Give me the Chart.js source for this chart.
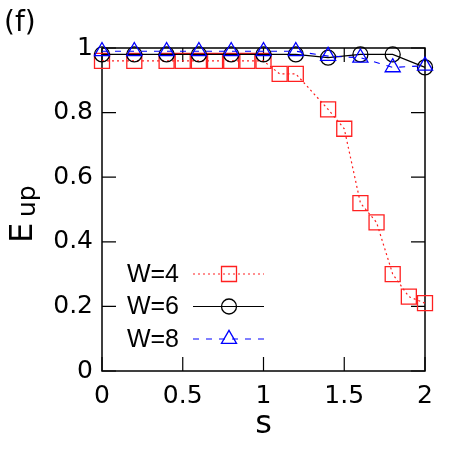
<!DOCTYPE html>
<html>
<head>
<meta charset="utf-8">
<script src="https://cdn.jsdelivr.net/npm/chart.js@4.4.1/dist/chart.umd.min.js"></script>
<style>
  html, body { margin: 0; padding: 0; background: #fff; }
  canvas { display: block; }
</style>
</head>
<body>
<canvas id="chart" width="450" height="450"></canvas>
<script>
// s values and E_up, one pair of arrays per W
const sW4 = [0, 0.2, 0.4, 0.5, 0.6, 0.7, 0.8, 0.9, 1.0, 1.1, 1.2, 1.4, 1.5, 1.6, 1.7, 1.8, 1.9, 2.0];
const eW4 = [0.96, 0.96, 0.96, 0.96, 0.96, 0.96, 0.96, 0.96, 0.96, 0.92, 0.92, 0.81, 0.75, 0.52, 0.46, 0.30, 0.23, 0.21];
const sW6 = [0, 0.2, 0.4, 0.6, 0.8, 1.0, 1.2, 1.4, 1.6, 1.8, 2.0];
const eW6 = [0.98, 0.98, 0.98, 0.98, 0.98, 0.98, 0.98, 0.97, 0.98, 0.98, 0.94];
const sW8 = [0, 0.2, 0.4, 0.6, 0.8, 1.0, 1.2, 1.4, 1.6, 1.8, 2.0];
const eW8 = [0.99, 0.99, 0.99, 0.99, 0.99, 0.99, 0.99, 0.975, 0.97, 0.94, 0.945];
const seriesLabels = ['W=4', 'W=6', 'W=8'];
const xTicks = [0, 0.5, 1, 1.5, 2];
const yTicks = [0, 0.2, 0.4, 0.6, 0.8, 1];

const RED = '#ff2020';
const BLUE = '#0000ff';
const BLACK = '#000000';

const toPoints = (xs, ys) => xs.map((x, i) => ({ x: x, y: ys[i] }));
const fmt = v => String(+Number(v).toFixed(2));

// gnuplot-style series look, reused by the legend
const styles = [
    { color: RED, dash: [2, 3], point: 'rect', radius: 10.6 },
    { color: BLACK, dash: [], point: 'circle', radius: 7.5 },
    { color: BLUE, dash: [6, 7], point: 'triangle', radius: 8.7 }
];

function makeDataset(i, xs, ys) {
    const st = styles[i];
    return {
        label: seriesLabels[i],
        data: toPoints(xs, ys),
        showLine: true,
        borderColor: st.color,
        borderWidth: 1.2,
        borderDash: st.dash,
        pointStyle: st.point,
        pointRadius: st.radius,
        pointBorderWidth: 1.3,
        pointBorderColor: st.color,
        pointBackgroundColor: 'rgba(0,0,0,0)',
        clip: false,
        order: 2 - i
    };
}

// Frame with inward tick marks on all four sides
const framePlugin = {
    id: 'frame',
    beforeDatasetsDraw(chart) {
        const { ctx, chartArea: a, scales: { x, y } } = chart;
        ctx.save();
        ctx.strokeStyle = BLACK;
        ctx.lineWidth = 1.5;
        ctx.strokeRect(a.left, a.top, a.right - a.left, a.bottom - a.top);
        ctx.lineWidth = 1.2;
        ctx.beginPath();
        xTicks.forEach(v => {
            const px = x.getPixelForValue(v);
            ctx.moveTo(px, a.bottom); ctx.lineTo(px, a.bottom - 14);
            ctx.moveTo(px, a.top); ctx.lineTo(px, a.top + 14);
        });
        yTicks.forEach(v => {
            const py = y.getPixelForValue(v);
            ctx.moveTo(a.left, py); ctx.lineTo(a.left + 14, py);
            ctx.moveTo(a.right, py); ctx.lineTo(a.right - 14, py);
        });
        ctx.stroke();
        ctx.restore();
    }
};

function drawMarker(ctx, style, cx, cy, r) {
    ctx.beginPath();
    if (style === 'rect') {
        const h = r * Math.SQRT1_2;
        ctx.rect(cx - h, cy - h, 2 * h, 2 * h);
    } else if (style === 'circle') {
        ctx.arc(cx, cy, r, 0, Math.PI * 2);
    } else {
        ctx.moveTo(cx, cy - r);
        ctx.lineTo(cx + r * Math.sin(2 * Math.PI / 3), cy + r * 0.5);
        ctx.lineTo(cx - r * Math.sin(2 * Math.PI / 3), cy + r * 0.5);
        ctx.closePath();
    }
    ctx.stroke();
}

// Legend, panel tag and the y title with its subscript
const textPlugin = {
    id: 'texts',
    afterDraw(chart) {
        const { ctx } = chart;
        ctx.save();
        ctx.fillStyle = BLACK;

        ctx.font = '28px "DejaVu Sans"';
        ctx.textAlign = 'left';
        ctx.textBaseline = 'alphabetic';
        ctx.fillText('(f)', 4, 31);

        ctx.save();
        ctx.translate(32, 243);
        ctx.rotate(-Math.PI / 2);
        ctx.font = '32px "DejaVu Sans"';
        ctx.fillText('E', 0, 0);
        ctx.font = '25px "DejaVu Sans"';
        ctx.fillText('up', 26, 3);
        ctx.restore();

        seriesLabels.forEach((lab, i) => {
            const st = styles[i];
            const yy = 274 + i * 32.5;
            ctx.font = '25px "Liberation Sans"';
            ctx.textAlign = 'right';
            ctx.textBaseline = 'middle';
            ctx.fillStyle = BLACK;
            ctx.fillText(lab, 179, yy + 1);
            ctx.strokeStyle = st.color;
            ctx.lineWidth = 1.2;
            ctx.setLineDash(st.dash);
            ctx.beginPath();
            ctx.moveTo(193, yy);
            ctx.lineTo(264, yy);
            ctx.stroke();
            ctx.setLineDash([]);
            ctx.lineWidth = 1.3;
            drawMarker(ctx, st.point, 229, yy, st.radius);
        });
        ctx.restore();
    }
};

new Chart(document.getElementById('chart'), {
    type: 'scatter',
    data: {
        datasets: [
            makeDataset(0, sW4, eW4),
            makeDataset(1, sW6, eW6),
            makeDataset(2, sW8, eW8)
        ]
    },
    options: {
        responsive: false,
        animation: false,
        layout: { padding: { top: 48, right: 25, left: 0, bottom: 0 } },
        plugins: { legend: { display: false }, tooltip: { enabled: false } },
        scales: {
            x: {
                type: 'linear',
                min: 0,
                max: 2,
                afterBuildTicks: s => { s.ticks = xTicks.map(v => ({ value: v })); },
                afterFit: s => { s.height = 79; },
                grid: { display: false, drawTicks: false },
                border: { display: false },
                ticks: {
                    color: BLACK,
                    padding: 10,
                    font: { family: 'DejaVu Sans', size: 25 },
                    callback: v => fmt(v)
                },
                title: {
                    display: true,
                    text: 's',
                    color: BLACK,
                    font: { family: 'DejaVu Sans', size: 32 },
                    padding: { top: 0, bottom: 6 }
                }
            },
            y: {
                type: 'linear',
                min: 0,
                max: 1,
                afterBuildTicks: s => { s.ticks = yTicks.map(v => ({ value: v })); },
                afterFit: s => { s.width = 102; },
                grid: { display: false, drawTicks: false },
                border: { display: false },
                ticks: {
                    color: BLACK,
                    padding: 9,
                    font: { family: 'DejaVu Sans', size: 25 },
                    callback: v => fmt(v)
                }
            }
        }
    },
    plugins: [framePlugin, textPlugin]
});
</script>
</body>
</html>
